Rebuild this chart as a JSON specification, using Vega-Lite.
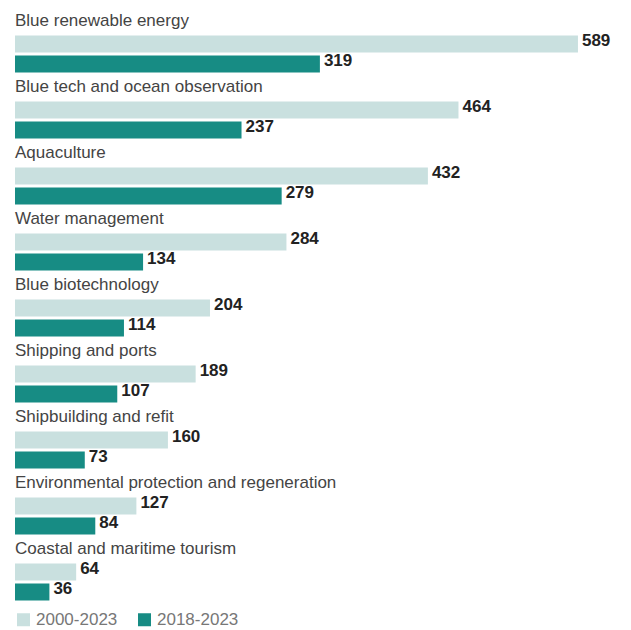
{
  "$schema": "https://vega.github.io/schema/vega-lite/v6.json",
  "width": 616,
  "height": 588,
  "autosize": "none",
  "padding": {"left": 15, "top": 11, "right": 0, "bottom": 31},
  "background": "white",
  "config": {"view": {"stroke": null}, "font": "Liberation Sans"},
  "data": {
    "values": [
      {"category": "Blue renewable energy", "period": "2000-2023", "value": 589},
      {"category": "Blue renewable energy", "period": "2018-2023", "value": 319},
      {"category": "Blue tech and ocean observation", "period": "2000-2023", "value": 464},
      {"category": "Blue tech and ocean observation", "period": "2018-2023", "value": 237},
      {"category": "Aquaculture", "period": "2000-2023", "value": 432},
      {"category": "Aquaculture", "period": "2018-2023", "value": 279},
      {"category": "Water management", "period": "2000-2023", "value": 284},
      {"category": "Water management", "period": "2018-2023", "value": 134},
      {"category": "Blue biotechnology", "period": "2000-2023", "value": 204},
      {"category": "Blue biotechnology", "period": "2018-2023", "value": 114},
      {"category": "Shipping and ports", "period": "2000-2023", "value": 189},
      {"category": "Shipping and ports", "period": "2018-2023", "value": 107},
      {"category": "Shipbuilding and refit", "period": "2000-2023", "value": 160},
      {"category": "Shipbuilding and refit", "period": "2018-2023", "value": 73},
      {"category": "Environmental protection and regeneration", "period": "2000-2023", "value": 127},
      {"category": "Environmental protection and regeneration", "period": "2018-2023", "value": 84},
      {"category": "Coastal and maritime tourism", "period": "2000-2023", "value": 64},
      {"category": "Coastal and maritime tourism", "period": "2018-2023", "value": 36}
    ]
  },
  "encoding": {
    "y": {
      "field": "category",
      "type": "nominal",
      "sort": null,
      "axis": null,
      "scale": {"paddingInner": 0.0909, "paddingOuter": 0}
    }
  },
  "layer": [
    {
      "mark": {"type": "bar", "height": {"band": 0.85}},
      "encoding": {
        "x": {"field": "value", "type": "quantitative", "axis": null, "scale": {"domain": [0, 644.5], "nice": false, "zero": true}},
        "yOffset": {"field": "period", "type": "nominal", "scale": {"domain": ["label", "2000-2023", "2018-2023"], "paddingInner": 0, "paddingOuter": 0}},
        "color": {
          "field": "period",
          "type": "nominal",
          "scale": {"domain": ["2000-2023", "2018-2023"], "range": ["#c9e0df", "#178c84"]},
          "legend": {
            "title": null,
            "orient": "none",
            "legendX": 0,
            "legendY": 600,
            "direction": "horizontal",
            "symbolType": "square",
            "symbolSize": 169,
            "symbolStrokeWidth": 0,
            "labelFontSize": 17,
            "labelColor": "#777777",
            "labelOffset": 4,
            "columnPadding": 18,
            "labelFont": "Liberation Sans"
          }
        }
      }
    },
    {
      "mark": {"type": "text", "align": "left", "baseline": "middle", "dx": 4, "fontSize": 17, "fontWeight": "bold", "color": "#222222"},
      "encoding": {
        "x": {"field": "value", "type": "quantitative"},
        "yOffset": {"field": "period", "type": "nominal"},
        "text": {"field": "value", "type": "quantitative"}
      }
    },
    {
      "transform": [{"filter": "datum.period == '2000-2023'"}],
      "mark": {"type": "text", "align": "left", "baseline": "middle", "fontSize": 17, "color": "#444444"},
      "encoding": {
        "x": {"datum": 0, "type": "quantitative"},
        "yOffset": {"datum": "label", "type": "nominal"},
        "text": {"field": "category", "type": "nominal"}
      }
    }
  ]
}
